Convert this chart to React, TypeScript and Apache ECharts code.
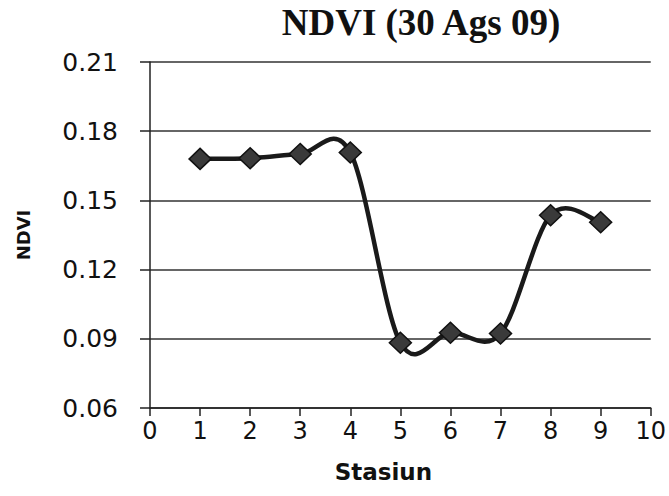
import React, { useEffect, useRef } from "react";
import * as echarts from "echarts";

const stations = [1, 2, 3, 4, 5, 6, 7, 8, 9];
const ndviValues = [0.168, 0.1683, 0.1701, 0.1708, 0.0883, 0.0926, 0.0923, 0.1436, 0.1405];
const titleText = "NDVI (30 Ags 09)";
const xName = "Stasiun";
const yName = "NDVI";

export default function App() {
  const ref = useRef<HTMLDivElement>(null);
  useEffect(() => {
    if (!ref.current) return;
    const chart = echarts.init(ref.current, null, { renderer: "svg" });
    const data = stations.map((s, i) => [s, ndviValues[i]]);

    // Excel-like smoothed line (Catmull-Rom -> Bezier), drawn through the axes' scales
    const renderSmooth = (params: any, api: any) => {
      if (params.dataIndex !== 0) return { type: "group", children: [] };
      const pts = data.map((d) => api.coord(d));
      let d = `M${pts[0][0]},${pts[0][1]}`;
      for (let i = 0; i < pts.length - 1; i++) {
        const p0 = pts[Math.max(0, i - 1)];
        const p1 = pts[i];
        const p2 = pts[i + 1];
        const p3 = pts[Math.min(pts.length - 1, i + 2)];
        const c1x = p1[0] + (p2[0] - p0[0]) / 6;
        const c1y = p1[1] + (p2[1] - p0[1]) / 6;
        const c2x = p2[0] - (p3[0] - p1[0]) / 6;
        const c2y = p2[1] - (p3[1] - p1[1]) / 6;
        d += ` C${c1x},${c1y} ${c2x},${c2y} ${p2[0]},${p2[1]}`;
      }
      return {
        type: "path",
        shape: { pathData: d },
        style: { stroke: "#1a1a1a", lineWidth: 4.5, fill: "none", lineJoin: "round", lineCap: "round" },
      };
    };

    chart.setOption({
      animation: false,
      backgroundColor: "#ffffff",
      title: {
        text: titleText,
        left: 421,
        top: 4,
        padding: 0,
        textAlign: "center",
        textStyle: {
          fontFamily: "Liberation Serif",
          fontWeight: "bold",
          fontSize: 37,
          color: "#111",
        },
      },
      grid: { left: 150, right: 18, top: 62, bottom: 88 },
      xAxis: {
        type: "value",
        min: 0,
        max: 10,
        interval: 1,
        name: xName,
        nameLocation: "middle",
        nameGap: 52,
        nameTextStyle: {
          fontFamily: "DejaVu Sans",
          fontWeight: "bold",
          fontSize: 23,
          color: "#111",
          padding: [0, 34, 0, 0],
        },
        axisLine: { show: true, onZero: false, lineStyle: { color: "#222", width: 1.5 } },
        axisTick: { show: true, length: 8, lineStyle: { color: "#222", width: 1.5 } },
        axisLabel: {
          margin: 11,
          fontFamily: "DejaVu Sans",
          fontSize: 24,
          color: "#111",
        },
        splitLine: { show: false },
      },
      yAxis: {
        type: "value",
        min: 0.06,
        max: 0.21,
        interval: 0.03,
        name: yName,
        nameLocation: "middle",
        nameGap: 118,
        nameRotate: 90,
        nameTextStyle: {
          fontFamily: "DejaVu Sans",
          fontWeight: "bold",
          fontSize: 18,
          color: "#111",
        },
        axisLine: { show: true, lineStyle: { color: "#222", width: 1.5 } },
        axisTick: { show: true, length: 10, lineStyle: { color: "#222", width: 1.5 } },
        axisLabel: {
          margin: 32,
          fontFamily: "DejaVu Sans",
          fontSize: 25,
          color: "#111",
          formatter: (v: number) => v.toFixed(2),
        },
        splitLine: { show: true, lineStyle: { color: "#333", width: 1.5 } },
      },
      series: [
        {
          type: "custom",
          data,
          renderItem: renderSmooth,
          clip: false,
          z: 2,
        },
        {
          type: "scatter",
          data,
          symbol: "diamond",
          symbolSize: [22, 21],
          itemStyle: { color: "#3a3a3a", borderColor: "#111", borderWidth: 1.5, opacity: 1 },
          z: 3,
        },
      ],
    });
    return () => chart.dispose();
  }, []);
  return (
    <div
      ref={ref}
      style={{ position: "fixed", left: 0, top: 0, width: 669, height: 496 }}
    />
  );
}
